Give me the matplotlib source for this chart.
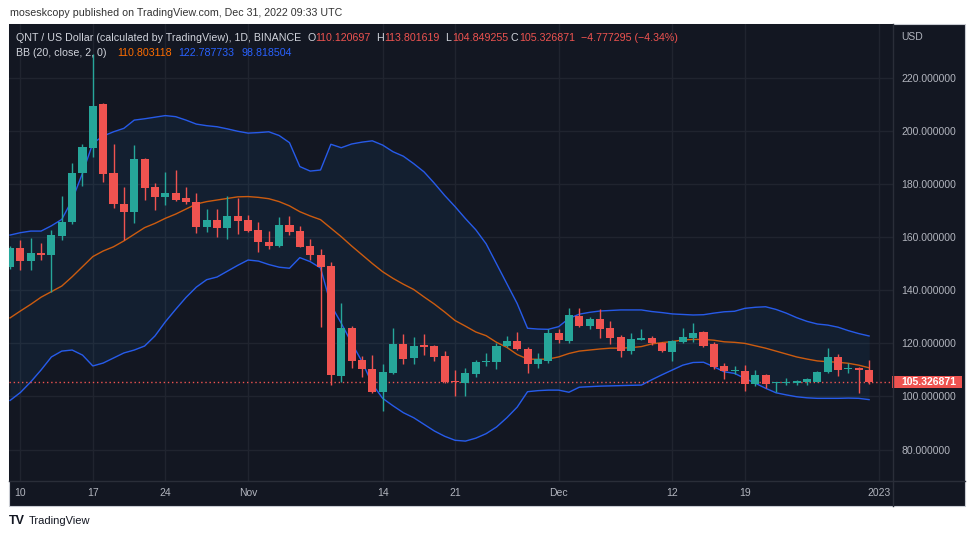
import numpy as np
import pandas as pd
import matplotlib
matplotlib.use('Agg')
import matplotlib.pyplot as plt
import matplotlib.dates as mdates
import matplotlib.transforms as mtransforms
from matplotlib.patches import Rectangle
from matplotlib.lines import Line2D

plt.rcParams['font.family'] = ['Liberation Sans', 'DejaVu Sans']

# daily candles, QNT/USD, 2022-10-09 .. 2022-12-31
dates = pd.date_range('2022-10-09', '2022-12-31', freq='D')
opens = [148.7, 156.0, 151.0, 154.2, 153.4, 160.6, 165.6, 184.1, 193.5, 210.1,
         184.1, 172.5, 169.6, 189.5, 178.9, 175.1, 176.8, 174.6, 173.4, 164.0,
         166.5, 163.6, 168.0, 166.5, 162.7, 158.1, 156.7, 164.6, 162.5, 156.7,
         153.3, 149.2, 107.7, 125.7, 113.7, 110.4, 101.6, 108.7, 119.7, 114.6,
         119.4, 119.0, 115.3, 105.6, 105.0, 108.5, 112.9, 113.1, 119.0, 120.9,
         117.9, 112.2, 113.5, 124.0, 121.0, 130.4, 126.6, 129.1, 125.7, 122.3,
         117.3, 121.3, 121.9, 120.3, 116.9, 120.6, 121.9, 124.4, 119.7, 111.5,
         109.6, 109.6, 104.7, 108.1, 105.0, 105.0, 105.0, 105.3, 105.6, 109.3,
         114.8, 110.2, 110.8, 110.120697]
highs = [156.5, 158.8, 159.8, 157.8, 162.7, 175.5, 188.1, 195.0, 229.0, 210.5,
         195.2, 178.9, 194.6, 189.8, 180.3, 184.6, 185.3, 178.8, 176.8, 170.5,
         170.5, 175.5, 174.6, 168.4, 165.8, 162.5, 167.5, 168.0, 164.2, 159.4,
         155.4, 150.7, 135.1, 126.5, 115.3, 115.6, 112.2, 125.7, 123.5, 122.3,
         123.4, 119.3, 117.3, 110.0, 110.6, 113.7, 116.3, 120.3, 122.8, 124.2,
         118.5, 116.3, 125.3, 125.3, 133.2, 133.2, 130.1, 132.8, 128.4, 123.2,
         123.8, 125.3, 122.8, 120.6, 121.3, 125.7, 127.6, 124.8, 120.6, 112.5,
         111.5, 111.9, 110.0, 108.5, 105.6, 106.9, 106.2, 106.9, 109.7, 118.4,
         116.0, 112.5, 111.2, 113.801619]
lows = [148.0, 147.6, 147.6, 151.3, 139.5, 158.9, 165.0, 179.3, 190.3, 180.9,
        171.1, 158.8, 165.2, 174.0, 170.4, 172.0, 173.8, 172.4, 161.5, 162.1,
        160.0, 159.3, 161.1, 162.1, 154.3, 155.4, 156.4, 160.8, 156.2, 151.4,
        126.3, 104.3, 105.6, 110.8, 107.2, 101.4, 94.5, 108.5, 112.2, 112.2,
        115.6, 113.5, 105.0, 100.3, 100.3, 107.5, 111.5, 110.2, 118.5, 117.6,
        109.0, 110.8, 112.7, 120.0, 120.3, 126.3, 125.5, 121.9, 119.8, 115.0,
        115.9, 121.1, 119.4, 116.9, 113.5, 120.3, 120.6, 118.5, 110.2, 106.6,
        108.4, 102.2, 104.0, 103.1, 101.8, 104.3, 104.3, 104.3, 105.4, 109.0,
        107.7, 109.0, 101.2, 104.849255]
closes = [156.0, 151.0, 153.9, 153.4, 160.8, 165.8, 184.3, 193.9, 209.5, 183.7,
          172.4, 169.4, 189.5, 178.6, 175.1, 176.8, 174.1, 173.1, 164.0, 166.5,
          163.6, 168.0, 166.2, 162.5, 158.1, 156.8, 164.6, 162.1, 156.4, 153.3,
          148.9, 108.1, 125.7, 113.5, 110.2, 101.6, 109.3, 119.7, 114.1, 119.1,
          118.8, 115.0, 105.3, 105.3, 108.7, 113.1, 113.5, 119.0, 120.9, 117.8,
          112.2, 114.0, 124.0, 121.3, 130.7, 126.6, 129.2, 125.4, 121.9, 117.3,
          121.7, 121.9, 120.0, 117.3, 120.9, 122.3, 124.0, 119.0, 111.2, 109.6,
          110.0, 104.7, 108.1, 104.7, 105.3, 105.6, 105.8, 106.5, 109.3, 115.0,
          110.0, 110.8, 110.1, 105.326871]

# Bollinger bands (20, close, 2) as drawn
bb_mid = [129.6, 132.2, 134.7, 137.4, 139.5, 141.6, 145.1, 148.9, 152.7, 154.8,
          156.4, 158.6, 161.1, 163.6, 165.2, 167.1, 168.7, 170.6, 172.5, 173.4,
          174.0, 174.6, 175.2, 175.3, 175.0, 174.5, 173.4, 171.8, 169.6, 168.0,
          166.6, 163.4, 160.2, 156.7, 153.4, 150.1, 147.0, 144.5, 142.3, 140.3,
          137.5, 134.8, 131.8, 128.6, 126.5, 124.3, 122.9, 120.4, 118.5, 115.8,
          114.1, 114.0, 114.1, 114.9, 116.2, 117.1, 117.5, 117.9, 118.2, 118.2,
          118.4, 118.8, 119.8, 120.3, 120.7, 121.3, 121.5, 121.5, 121.2, 120.6,
          120.4, 120.0, 119.1, 118.2, 117.1, 116.0, 114.9, 114.1, 113.4, 113.1,
          112.9, 112.5, 111.8, 110.803118]
bb_up = [160.8, 161.7, 162.3, 162.3, 164.3, 166.7, 174.0, 184.1, 195.4, 198.1,
         199.7, 201.0, 204.1, 204.6, 205.2, 205.8, 205.4, 204.1, 202.6, 202.0,
         201.6, 200.8, 199.9, 199.2, 199.4, 199.7, 198.3, 195.6, 186.6, 184.9,
         185.3, 195.0, 193.7, 195.1, 195.8, 196.3, 194.7, 192.2, 190.5, 187.7,
         184.6, 180.3, 175.7, 171.5, 167.0, 162.8, 157.5, 150.0, 142.5, 135.0,
         125.7, 125.4, 125.3, 126.3, 129.4, 131.0, 131.7, 132.2, 132.4, 132.6,
         132.6, 132.6, 132.0, 131.6, 131.1, 130.9, 130.7, 130.8, 131.4, 131.9,
         132.1, 133.2, 133.6, 133.8, 132.8, 131.4, 129.7, 128.3, 127.3, 126.9,
         126.1, 124.8, 123.7, 122.787733]
bb_low = [98.5, 101.5, 105.5, 110.0, 114.9, 117.1, 117.5, 115.6, 111.5, 112.6,
          114.5, 116.4, 117.5, 119.0, 122.8, 128.1, 132.8, 137.3, 141.2, 144.0,
          145.0, 147.2, 149.4, 151.4, 151.0, 149.7, 148.7, 148.3, 152.3, 150.8,
          148.4, 134.5, 127.6, 120.2, 113.2, 104.7, 99.3, 96.5, 93.9, 92.0,
          89.5, 87.0, 85.0, 83.5, 83.2, 84.3, 86.0, 88.5, 92.0, 96.0,
          101.8, 102.2, 102.4, 102.4, 101.6, 103.5, 103.7, 103.9, 104.0, 104.1,
          104.2, 104.3, 106.3, 108.2, 110.0, 111.8, 112.8, 112.9, 111.2, 109.3,
          108.7, 106.8, 105.0, 103.1, 101.4, 100.6, 99.9, 99.5, 99.3, 99.3,
          99.3, 99.4, 99.3, 98.818504]

tick_dates = ['2022-10-10', '2022-10-17', '2022-10-24', '2022-11-01', '2022-11-14',
              '2022-11-21', '2022-12-01', '2022-12-12', '2022-12-19', '2023-01-01']
tick_labels = ['10', '17', '24', 'Nov', '14', '21', 'Dec', '12', '19', '2023']
price_ticks = [80, 100, 120, 140, 160, 180, 200, 220]

UP, DOWN = '#26a69a', '#ef5350'
BG, GRID, TXT = '#131722', '#20242f', '#b2b5be'

W, H = 975, 538
fig = plt.figure(figsize=(W / 100, H / 100), dpi=100)
fig.patch.set_facecolor('white')
fx = lambda px: px / W
fy = lambda py: 1 - py / H

# dark panel with price/time scales
fig.add_artist(Rectangle((fx(9), fy(506)), fx(965) - fx(9), fy(24) - fy(506),
                         transform=fig.transFigure, facecolor=BG,
                         edgecolor='#c9ccd3', lw=0.8, zorder=0))
fig.add_artist(Line2D([fx(893), fx(893)], [fy(24), fy(506)], transform=fig.transFigure,
                      color='#2a2e39', lw=1))
fig.add_artist(Line2D([fx(9), fx(965)], [fy(481), fy(481)], transform=fig.transFigure,
                      color='#2a2e39', lw=1))

ax = fig.add_axes([fx(9), fy(481), fx(893) - fx(9), fy(24) - fy(481)])
ax.set_facecolor(BG)
for s in ax.spines.values():
    s.set_visible(False)

x = mdates.date2num(dates)
o = np.array(opens); h = np.array(highs); l = np.array(lows); c = np.array(closes)
col = np.where(c >= o, UP, DOWN)

ax.fill_between(x, bb_low, bb_up, color='#2196f3', alpha=0.07, lw=0, zorder=1)
ax.plot(x, bb_up, color='#2962ff', lw=1.0, alpha=0.9, zorder=2)
ax.plot(x, bb_low, color='#2962ff', lw=1.0, alpha=0.9, zorder=2)
ax.plot(x, bb_mid, color='#e0620c', lw=1.0, alpha=0.9, zorder=2)

ax.vlines(x, l, h, colors=col, lw=1, zorder=3)
body = np.maximum(np.abs(c - o), 0.4)
ax.bar(x, body, bottom=np.minimum(o, c), width=0.78, color=col, lw=0, zorder=4)

last = closes[-1]
ax.axhline(last, color=DOWN, lw=1, ls=(0, (1, 2)), zorder=2.5)

ax.set_xlim(x[0] - 0.1, x[0] + 85.31)
ax.set_ylim(68.17, 240.3)

ax.set_yticks(price_ticks)
ax.set_yticklabels([f'{v:.6f}' for v in price_ticks])
ax.yaxis.tick_right()
ax.tick_params(axis='y', length=0, pad=6, labelcolor=TXT, labelsize=7.5)
ax.set_xticks(mdates.date2num(pd.to_datetime(tick_dates)))
ax.set_xticklabels(tick_labels)
ax.tick_params(axis='x', length=0, pad=5, labelcolor=TXT, labelsize=7.5)
ax.grid(True, color=GRID, lw=1)
ax.set_axisbelow(True)

# last price marker on the scale
blend = mtransforms.blended_transform_factory(fig.transFigure, ax.transData)
ax.add_patch(Rectangle((fx(892), last - 2.3), fx(962) - fx(892), 4.6, transform=blend,
                       facecolor=DOWN, edgecolor='none', clip_on=False, zorder=6))
ax.text(fx(901), last, f'{last:.6f}', transform=blend, color='white', fontsize=7.5,
        fontweight='bold', va='center', ha='left', zorder=7)
fig.text(fx(901), fy(37), 'USD', color=TXT, fontsize=7.5, va='center')

# headers
fig.text(fx(10), fy(13), 'moseskcopy published on TradingView.com, Dec 31, 2022 09:33 UTC',
         color='#333333', fontsize=7.7, va='center')

LG = '#d1d4dc'
row1 = [(16, 'QNT / US Dollar (calculated by TradingView), 1D, BINANCE', LG),
        (307, 'O', LG), (315, f'{opens[-1]:.6f}', DOWN),
        (376, 'H', LG), (384, f'{highs[-1]:.6f}', DOWN),
        (445, 'L', LG), (452, f'{lows[-1]:.6f}', DOWN),
        (511, 'C', LG), (519, f'{last:.6f}', DOWN),
        (581, '\u22124.777295 (\u22124.34%)', DOWN)]
for px, s, cc in row1:
    fig.text(fx(px), fy(38), s, color=cc, fontsize=7.7, va='center')
row2 = [(16, 'BB (20, close, 2, 0)', LG), (117, f'{bb_mid[-1]:.6f}', '#ff6d00'),
        (178, f'{bb_up[-1]:.6f}', '#2962ff'), (242, f'{bb_low[-1]:.6f}', '#2962ff')]
for px, s, cc in row2:
    fig.text(fx(px), fy(53), s, color=cc, fontsize=7.7, va='center')

fig.text(fx(9), fy(521), 'TV', color='#131722', fontsize=9, fontweight='heavy', va='center')
fig.text(fx(29), fy(521), 'TradingView', color='#131722', fontsize=8, va='center')

fig.savefig('out.png', dpi=100, facecolor=fig.get_facecolor())
